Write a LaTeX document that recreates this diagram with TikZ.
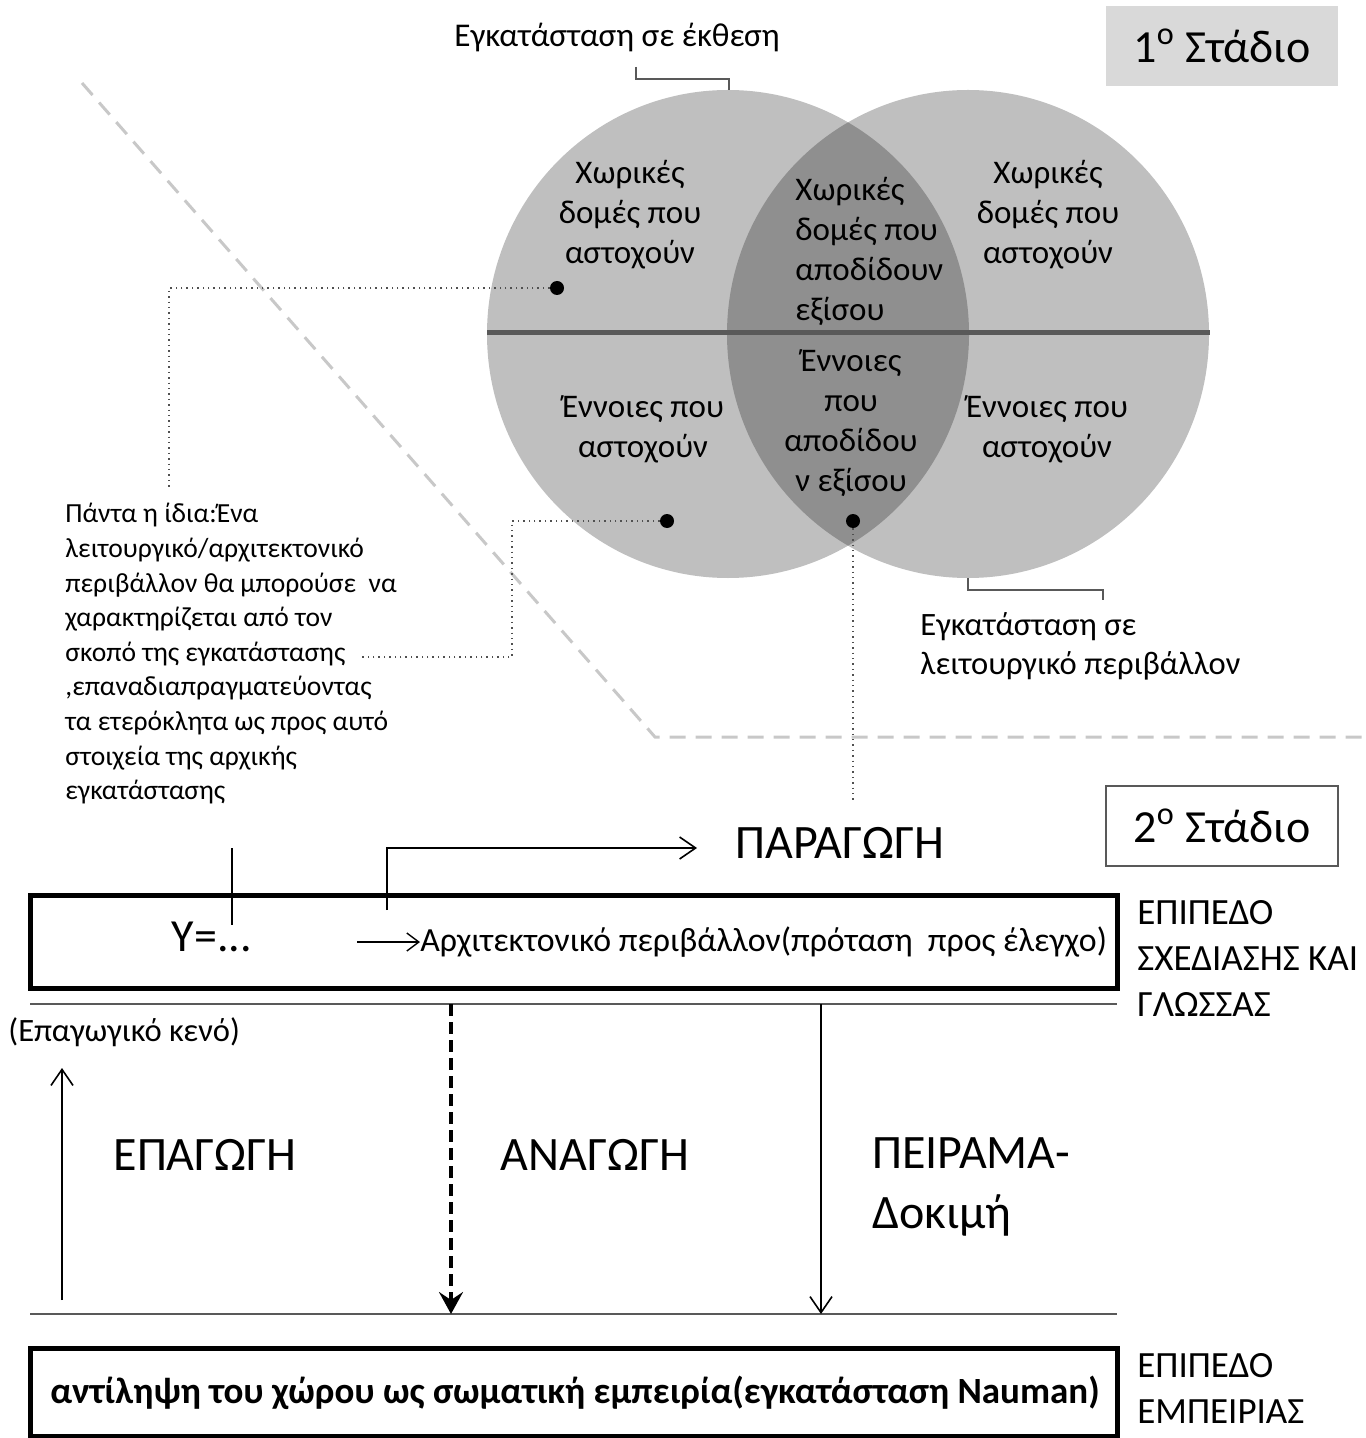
\documentclass[tikz,border=0pt]{standalone}
\usepackage{fontspec}
\setmainfont{Carlito}
\usetikzlibrary{arrows.meta,positioning}
\definecolor{CircleGray}{HTML}{BFBFBF}
\definecolor{LensGray}{HTML}{8F8F8F}
\definecolor{Divider}{HTML}{595959}
\definecolor{StageGray}{HTML}{D9D9D9}
\definecolor{Guide}{HTML}{C8C8C8}
\definecolor{Leader}{HTML}{505050}
\tikzset{
  venntext/.style={align=center, font=\fontsize{16.5}{20}\selectfont, inner sep=0pt},
  para/.style={align=left, font=\fontsize{13.8}{17.3}\selectfont, inner sep=0pt, anchor=north west},
  biglabel/.style={font=\fontsize{24}{28}\selectfont, inner sep=0pt},
  levellabel/.style={align=left, font=\fontsize{18.5}{23}\selectfont, inner sep=0pt, anchor=west},
  stagebox/.style={minimum width=116pt, minimum height=40pt, inner sep=0pt, font=\fontsize{23}{28}\selectfont},
  dot/.style={circle, fill=black, minimum size=7pt, inner sep=0pt},
  leader/.style={draw=Leader, dotted, line width=0.7pt},
  bracket/.style={draw=Divider, line width=1pt},
  levelbox/.style={draw=black, line width=2.5pt, minimum width=543.5pt, inner sep=0pt},
  rule/.style={draw=Divider, line width=1.1pt},
  thinarrow/.style={-{Straight Barb[length=8pt,width=11pt]}, line width=0.8pt},
  dasharrow/.style={-{Stealth[length=11pt,width=12pt,inset=4pt]}, line width=2pt, dash pattern=on 6pt off 3pt}
}
\begin{document}
\begin{tikzpicture}[x=0.5pt,y=-0.5pt]
  \useasboundingbox (0,0) rectangle (1365,1438);
  % stage 1 : venn
  \fill[CircleGray] (728,334) ellipse [x radius=241, y radius=244];
  \fill[CircleGray] (968,334) ellipse [x radius=241, y radius=244];
  \begin{scope}
    \clip (728,334) ellipse [x radius=241, y radius=244];
    \fill[LensGray] (968,334) ellipse [x radius=241, y radius=244];
  \end{scope}
  \draw[Divider, line width=2.5pt] (487,333) -- (1210,333);
  \draw[Guide, line width=1.5pt, dash pattern=on 8pt off 5pt] (82,83) -- (655,737) -- (1365,737);

  \node[stagebox, fill=StageGray] (stage1) at (1222,46) {1\textsuperscript{ο} Στάδιο};
  \node[font=\fontsize{16.6}{19}\selectfont, inner sep=0pt] (exhib) at (617,37) {Εγκατάσταση σε έκθεση};
  \coordinate (exhibA) at (636,67);
  \coordinate (exhibB) at (729,90);
  \draw[bracket] (exhibA) |- (exhibB |- 0,79) -- (exhibB);

  \node[venntext] (lefttop) at (630,215) {Χωρικές\\δομές που\\αστοχούν};
  \node[venntext, align=left, anchor=west] (midtop) at (795,251) {Χωρικές\\δομές που\\αποδίδουν\\εξίσου};
  \node[venntext] (righttop) at (1048,215) {Χωρικές\\δομές που\\αστοχούν};
  \node[venntext] (leftbot) at (643,429) {Έννοιες που\\αστοχούν};
  \node[venntext] (midbot) at (851,423) {Έννοιες\\που\\αποδίδου\\ν εξίσου};
  \node[venntext] (rightbot) at (1047,429) {Έννοιες που\\αστοχούν};

  \node[dot] (dotA) at (557,288) {};
  \node[dot] (dotB) at (667,521) {};
  \node[dot] (dotC) at (853,521) {};

  \node[font=\fontsize{16.3}{19.5}\selectfont, align=left, anchor=north west, inner sep=0pt] (oper) at (920,612) {Εγκατάσταση σε\\λειτουργικό περιβάλλον};
  \coordinate (operA) at (968,578);
  \coordinate (operB) at (1103,600);
  \draw[bracket] (operA) |- (operB |- 0,590) -- (operB);

  \node[para] (always) at (65,503) {Πάντα η ίδια:Ένα\\λειτουργικό/αρχιτεκτονικό\\περιβάλλον θα μπορούσε\ \ να\\χαρακτηρίζεται από τον\\σκοπό της εγκατάστασης\\,επαναδιαπραγματεύοντας\\τα ετερόκλητα ως προς αυτό\\στοιχεία της αρχικής\\εγκατάστασης};
  \coordinate (alwaysTop) at (169,490);
  \coordinate (alwaysEnd) at (360,657);
  \coordinate (bendB) at (512,521);
  \coordinate (dotCend) at (853,803);
  \draw[leader] (dotA) -| (alwaysTop);
  \draw[leader] (dotB) -- (bendB) |- (alwaysEnd);
  \draw[leader] (dotC) -- (dotCend);

  % stage 2 : levels
  \node[stagebox, draw=Divider, line width=0.8pt] (stage2) at (1222,826) {2\textsuperscript{ο} Στάδιο};
  \node[biglabel, anchor=west] (prod) at (735,843) {ΠΑΡΑΓΩΓΗ};

  \node[levelbox, minimum height=46.5pt] (design) at (573.5,941.5) {};
  \node[font=\fontsize{23}{26}\selectfont, inner sep=0pt] (yeq) at (212,937) {Y=...};
  \node[font=\fontsize{16.9}{19}\selectfont, inner sep=0pt, anchor=west] (archprop) at (420,942) {Αρχιτεκτονικό περιβάλλον(πρόταση\ \ προς έλεγχο)};
  \coordinate (propstart) at (357,942);
  \draw[-{Straight Barb[length=6pt,width=9pt]}, line width=0.7pt] (propstart) -- (archprop.west);

  \coordinate (prodstart) at (387,910);
  \coordinate (prodend) at (697,848);
  \draw[thinarrow] (prodstart) |- (prodend);
  \coordinate (tickA) at (232,848);
  \coordinate (tickB) at (232,925);
  \draw[line width=0.8pt] (tickA) -- (tickB);

  \node[levellabel] (designlvl) at (1137,958) {ΕΠΙΠΕΔΟ\\ΣΧΕΔΙΑΣΗΣ ΚΑΙ\\ΓΛΩΣΣΑΣ};

  \coordinate (ruleAl) at (30,1004);
  \coordinate (ruleAr) at (1117,1004);
  \coordinate (ruleBl) at (30,1314);
  \coordinate (ruleBr) at (1117,1314);
  \draw[rule] (ruleAl) -- (ruleAr);
  \draw[rule] (ruleBl) -- (ruleBr);

  \node[font=\fontsize{16.3}{19}\selectfont, inner sep=0pt, anchor=west] (gap) at (8,1032) {(Επαγωγικό κενό)};
  \coordinate (indstart) at (62,1300);
  \coordinate (indend) at (62,1068);
  \draw[thinarrow] (indstart) -- (indend);
  \node[biglabel] (induct) at (205,1155) {ΕΠΑΓΩΓΗ};

  \coordinate (dedstart) at (451,1004);
  \coordinate (dedend) at (451,1314);
  \draw[dasharrow] (dedstart) -- (dedend);
  \node[biglabel] (deduct) at (595,1155) {ΑΝΑΓΩΓΗ};

  \coordinate (expstart) at (821,1004);
  \coordinate (expend) at (821,1314);
  \draw[thinarrow] (expstart) -- (expend);
  \node[biglabel, align=left, anchor=west, font=\fontsize{24}{30}\selectfont] (exper) at (872,1187) {ΠΕΙΡΑΜΑ-\\Δοκιμή};

  \node[levelbox, minimum height=44pt] (experience) at (573.5,1392) {};
  \node[font=\bfseries\fontsize{18.5}{23}\selectfont, inner sep=0pt] (percept) at (575,1393) {αντίληψη του χώρου ως σωματική εμπειρία(εγκατάσταση Nauman)};
  \node[levellabel] (explvl) at (1137,1388) {ΕΠΙΠΕΔΟ\\ΕΜΠΕΙΡΙΑΣ};
\end{tikzpicture}
\end{document}
